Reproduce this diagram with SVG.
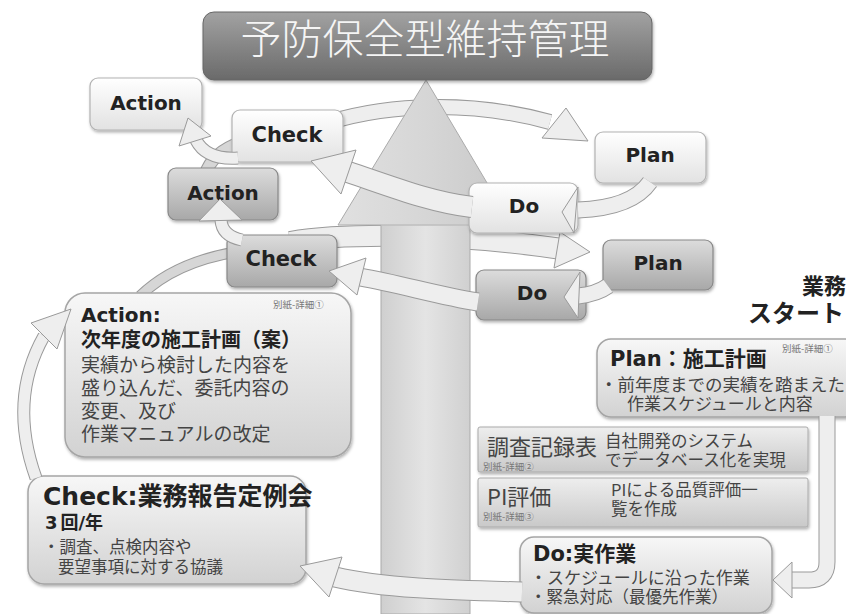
<svg xmlns="http://www.w3.org/2000/svg" width="846" height="614" viewBox="0 0 846 614">
<defs>
<linearGradient id="gLight" x1="0" y1="0" x2="0" y2="1"><stop offset="0" stop-color="#ffffff"/><stop offset="1" stop-color="#e2e2e2"/></linearGradient>
<linearGradient id="gDark" x1="0" y1="0" x2="0" y2="1"><stop offset="0" stop-color="#dcdcdc"/><stop offset="1" stop-color="#a8a8a8"/></linearGradient>
<linearGradient id="gBig" x1="0" y1="0" x2="0" y2="1"><stop offset="0" stop-color="#f7f7f7"/><stop offset="1" stop-color="#d2d2d2"/></linearGradient>
<linearGradient id="gTab" x1="0" y1="0" x2="0" y2="1"><stop offset="0" stop-color="#eeeeee"/><stop offset="1" stop-color="#c9c9c9"/></linearGradient>
<linearGradient id="gTitle" x1="0" y1="0" x2="0" y2="1"><stop offset="0" stop-color="#a2a2a2"/><stop offset="1" stop-color="#6a6a6a"/></linearGradient>
<linearGradient id="gShaft" x1="0" y1="0" x2="1" y2="0"><stop offset="0" stop-color="#cfcfcf"/><stop offset="0.5" stop-color="#e4e4e4"/><stop offset="1" stop-color="#d0d0d0"/></linearGradient>
<linearGradient id="gHead" x1="0" y1="0" x2="1" y2="0"><stop offset="0" stop-color="#e0e0e0"/><stop offset="0.5" stop-color="#d6d6d6"/><stop offset="1" stop-color="#c8c8c8"/></linearGradient>
<filter id="sh" x="-10%" y="-10%" width="130%" height="140%"><feDropShadow dx="1" dy="2" stdDeviation="1.5" flood-color="#000" flood-opacity="0.3"/></filter>
<style>
.light{fill:url(#gLight);stroke:#b2b2b2;stroke-width:1.2;filter:url(#sh)}
.dark{fill:url(#gDark);stroke:#888;stroke-width:1.2;filter:url(#sh)}
.big{fill:url(#gBig);stroke:#a5a5a5;stroke-width:1.5;filter:url(#sh)}
.tab{fill:url(#gTab);stroke:#aaa;stroke-width:1;filter:url(#sh)}
.lbl{font-family:"DejaVu Sans","Noto Sans CJK JP",sans-serif;font-weight:bold;fill:#222;text-anchor:middle}
.bt{font-family:"DejaVu Sans","Noto Sans CJK JP",sans-serif;font-weight:bold;fill:#222}
.jp{font-family:"Noto Sans CJK JP",sans-serif;fill:#444}
.sm{font-family:"Noto Sans CJK JP",sans-serif;fill:#777;font-size:9.5px}
.bo{fill:none;stroke:#9a9a9a;stroke-linecap:butt}
.bi{fill:none;stroke:#eeeeee;stroke-linecap:butt}
.bib{fill:none;stroke:#d6d6d6;stroke-linecap:butt}
.hd{fill:#eeeeee;stroke:#9a9a9a;stroke-width:1;stroke-linejoin:round}
</style>
</defs>
<rect width="846" height="614" fill="#ffffff"/>

<g id="connectors-back">
<path class="bo" stroke-width="16" d="M 330 122 C 390 104 470 100 550 122"/>
<path class="bi" stroke-width="14" d="M 330 122 C 390 104 470 100 550 122"/>
<polygon class="hd" points="588,141 566,108 542,138"/>
<path class="bo" stroke-width="13" d="M 205 175 Q 212 152 242 142"/>
<path class="bib" stroke-width="11" d="M 205 175 Q 212 152 242 142"/>
<path class="bo" stroke-width="22" d="M 290 242 C 350 232 460 234 562 249"/>
<path class="bi" stroke-width="20" d="M 290 242 C 350 232 460 234 562 249"/>
<polygon class="hd" points="590,252 560,232 554,268"/>
<path class="bo" stroke-width="11" d="M 140 296 Q 175 262 236 252"/>
<path class="bib" stroke-width="9" d="M 140 296 Q 175 262 236 252"/>
</g>

<g id="big-arrow">
<rect x="381" y="222" width="89" height="392" fill="url(#gShaft)" stroke="#aaaaaa" stroke-width="1"/>
<polygon points="426,80 338,225 512,225" fill="url(#gHead)" stroke="#aaaaaa" stroke-width="1"/>
<line x1="381" y1="225" x2="470" y2="225" stroke="#c8c8c8" stroke-width="1"/>
</g>

<g id="title">
<rect x="203" y="12" width="449" height="68" rx="11" fill="url(#gTitle)" stroke="#666" stroke-width="1" filter="url(#sh)"/>
<text x="425" y="54" font-family="'Noto Sans CJK JP',sans-serif" font-weight="300" font-size="41" fill="#f5f5f5" text-anchor="middle">予防保全型維持管理</text>
</g>

<g id="node-action1"><rect class="light" x="90" y="78" width="112" height="52" rx="8"/><text class="lbl" x="146" y="110" font-size="20">Action</text></g>
<g id="node-check1"><rect class="light" x="232" y="110" width="111" height="52" rx="8"/><text class="lbl" x="287" y="142" font-size="21">Check</text></g>
<g id="node-action2"><rect class="dark" x="168" y="168" width="110" height="52" rx="8"/><text class="lbl" x="223" y="200" font-size="20">Action</text></g>
<g id="node-check2"><rect class="dark" x="227" y="235" width="110" height="52" rx="8"/><text class="lbl" x="281" y="266" font-size="21">Check</text></g>
<g id="node-plan1"><rect class="light" x="595" y="132" width="111" height="51" rx="8"/><text class="lbl" x="650" y="162" font-size="20">Plan</text></g>
<g id="node-do1"><rect class="light" x="469" y="183" width="109" height="50" rx="8"/><text class="lbl" x="524" y="213" font-size="20">Do</text></g>
<g id="node-plan2"><rect class="dark" x="603" y="240" width="110" height="50" rx="8"/><text class="lbl" x="658" y="270" font-size="20">Plan</text></g>
<g id="node-do2"><rect class="dark" x="476" y="270" width="110" height="50" rx="8"/><text class="lbl" x="532" y="300" font-size="20">Do</text></g>

<g id="node-action-big">
<rect class="big" x="65" y="293" width="286" height="164" rx="20"/>
<text class="sm" x="273" y="308">別紙-詳細①</text>
<text class="bt" font-size="20"><tspan x="81" y="322">Action:</tspan><tspan x="81" y="347" font-family="'Noto Sans CJK JP',sans-serif">次年度の施工計画（案）</tspan></text>
<text class="jp" font-size="19"><tspan x="81" y="372">実績から検討した内容を</tspan><tspan x="81" y="395">盛り込んだ、委託内容の</tspan><tspan x="81" y="418">変更、及び</tspan><tspan x="81" y="441">作業マニュアルの改定</tspan></text>
</g>

<g id="node-check-big">
<rect class="big" x="28" y="476" width="278" height="108" rx="16"/>
<text class="bt"><tspan x="43" y="505" font-size="25">Check:<tspan font-family="'Noto Sans CJK JP',sans-serif">業務報告定例会</tspan></tspan><tspan x="45" y="529" font-size="18">3<tspan dx="3" font-family="'Noto Sans CJK JP',sans-serif">回</tspan>/<tspan font-family="'Noto Sans CJK JP',sans-serif">年</tspan></tspan></text>
<text class="jp" font-size="16.5"><tspan x="43" y="553">・調査、点検内容や</tspan><tspan x="58" y="573">要望事項に対する協議</tspan></text>
</g>

<g id="label-start">
<text class="bt" font-family="'Noto Sans CJK JP',sans-serif" text-anchor="end"><tspan x="846" y="294" font-size="22">業務</tspan><tspan x="844" y="322" font-size="24">スタート</tspan></text>
</g>

<g id="node-plan-big">
<rect class="big" x="597" y="339" width="262" height="78" rx="14"/>
<text class="sm" x="782" y="352">別紙-詳細①</text>
<text class="bt" x="610" y="366" font-size="21">Plan<tspan font-family="'Noto Sans CJK JP',sans-serif">：施工計画</tspan></text>
<text class="jp" font-size="17"><tspan x="600" y="391" font-size="17.5">・前年度までの実績を踏まえた</tspan><tspan x="627" y="410">作業スケジュールと内容</tspan></text>
</g>

<g id="node-survey">
<rect class="tab" x="478" y="427" width="330" height="45" rx="2"/>
<text class="jp" x="487" y="455" font-size="22">調査記録表</text>
<text class="sm" x="483" y="470">別紙-詳細②</text>
<text class="jp" font-size="16.5"><tspan x="605" y="447">自社開発のシステム</tspan><tspan x="605" y="466">でデータベース化を実現</tspan></text>
</g>

<g id="node-pi">
<rect class="tab" x="478" y="478" width="330" height="49" rx="2"/>
<text class="jp" x="487" y="505" font-size="22">PI評価</text>
<text class="sm" x="483" y="520">別紙-詳細③</text>
<text class="jp" font-size="16.5"><tspan x="611" y="496">PIによる品質評価一</tspan><tspan x="611" y="515">覧を作成</tspan></text>
</g>

<g id="node-do-big">
<rect class="big" x="520" y="537" width="252" height="76" rx="14"/>
<text class="bt" x="533" y="561" font-size="21">Do:<tspan font-family="'Noto Sans CJK JP',sans-serif">実作業</tspan></text>
<text class="jp" font-size="17"><tspan x="530" y="584">・スケジュールに沿った作業</tspan><tspan x="530" y="603" font-size="16.5">・緊急対応（最優先作業）</tspan></text>
</g>

<g id="connectors-front">
<path class="bo" stroke-width="22" d="M 472 207 C 430 202 390 186 348 172"/>
<path class="bi" stroke-width="20" d="M 472 207 C 430 202 390 186 348 172"/>
<polygon class="hd" points="311,161 356,150 341,194"/>
<path class="bo" stroke-width="17" d="M 650 182 Q 632 208 578 210"/>
<path class="bi" stroke-width="15" d="M 650 182 Q 632 208 578 210"/>
<polygon class="hd" points="562,212 578,187 574,233"/>
<path class="bo" stroke-width="13" d="M 238 158 Q 206 160 196 140"/>
<path class="bi" stroke-width="11" d="M 238 158 Q 206 160 196 140"/>
<polygon class="hd" points="188,118 211,136 179,146"/>
<path class="bo" stroke-width="17" d="M 608 286 Q 597 294 578 296"/>
<path class="bi" stroke-width="15" d="M 608 286 Q 597 294 578 296"/>
<polygon class="hd" points="564,297 580,272 578,318"/>
<path class="bo" stroke-width="19" d="M 478 302 C 440 296 400 284 360 277"/>
<path class="bi" stroke-width="17" d="M 478 302 C 440 296 400 284 360 277"/>
<polygon class="hd" points="329,271 366,258 357,295"/>
<path class="bo" stroke-width="13" d="M 242 240 Q 222 236 221 220"/>
<path class="bi" stroke-width="11" d="M 242 240 Q 222 236 221 220"/>
<polygon class="hd" points="220,199 242,220 199,221"/>
<path class="bo" stroke-width="13" d="M 36 478 Q 8 400 44 336"/>
<path class="bi" stroke-width="11" d="M 36 478 Q 8 400 44 336"/>
<polygon class="hd" points="71,309 57,349 31,323"/>
<path class="bo" stroke-width="21" d="M 522 592 C 450 590 380 588 335 577"/>
<path class="bi" stroke-width="19" d="M 522 592 C 450 590 380 588 335 577"/>
<polygon class="hd" points="300,566 342,557 329,597"/>
<path class="bo" stroke-width="17" d="M 827 416 L 827 562 Q 827 580 809 580 L 790 580"/>
<path class="bi" stroke-width="15" d="M 827 416 L 827 562 Q 827 580 809 580 L 790 580"/>
<polygon class="hd" points="773,580 792,562 792,598"/>
</g>
</svg>
